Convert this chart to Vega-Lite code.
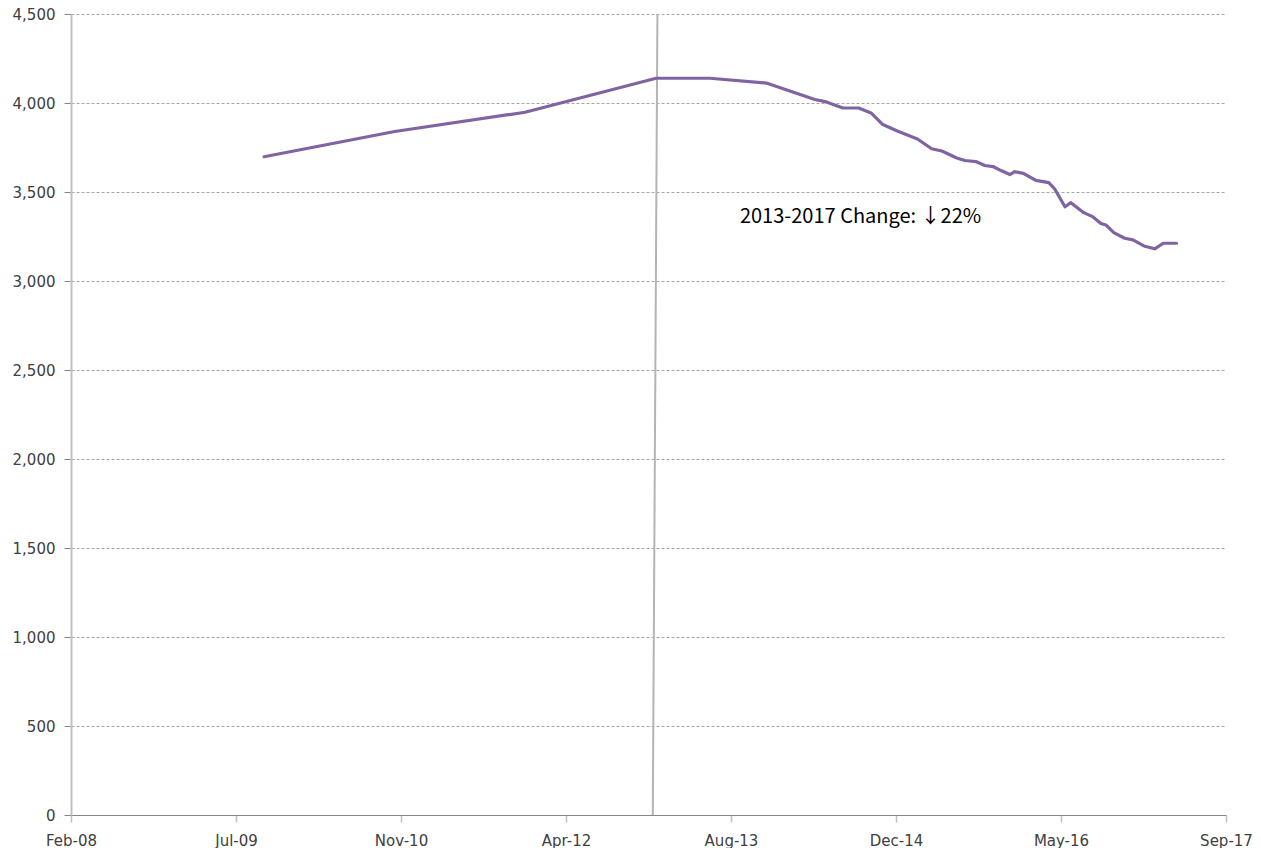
{
  "$schema": "https://vega.github.io/schema/vega-lite/v6.json",
  "autosize": {"type": "none"},
  "width": 1155,
  "height": 801,
  "padding": {"left": 71, "top": 14, "right": 35, "bottom": 33},
  "background": "white",
  "config": {"view": {"stroke": null}},
  "datasets": {
    "series": [
      {"date": "2009-10-01", "value": 3698},
      {"date": "2010-11-01", "value": 3840},
      {"date": "2011-12-01", "value": 3948},
      {"date": "2013-01-01", "value": 4139},
      {"date": "2013-06-13", "value": 4139},
      {"date": "2013-12-01", "value": 4112},
      {"date": "2014-04-27", "value": 4020},
      {"date": "2014-06-01", "value": 4006},
      {"date": "2014-07-21", "value": 3972},
      {"date": "2014-09-07", "value": 3972},
      {"date": "2014-10-16", "value": 3942},
      {"date": "2014-11-19", "value": 3879},
      {"date": "2015-01-02", "value": 3843},
      {"date": "2015-03-04", "value": 3798},
      {"date": "2015-04-16", "value": 3743},
      {"date": "2015-05-17", "value": 3730},
      {"date": "2015-07-01", "value": 3691},
      {"date": "2015-07-26", "value": 3677},
      {"date": "2015-08-28", "value": 3671},
      {"date": "2015-09-24", "value": 3649},
      {"date": "2015-10-19", "value": 3643},
      {"date": "2015-11-14", "value": 3619},
      {"date": "2015-12-09", "value": 3598},
      {"date": "2015-12-24", "value": 3614},
      {"date": "2016-01-19", "value": 3605},
      {"date": "2016-02-26", "value": 3565},
      {"date": "2016-04-05", "value": 3553},
      {"date": "2016-04-23", "value": 3517},
      {"date": "2016-05-24", "value": 3417},
      {"date": "2016-06-11", "value": 3440},
      {"date": "2016-07-20", "value": 3384},
      {"date": "2016-08-17", "value": 3360},
      {"date": "2016-09-10", "value": 3323},
      {"date": "2016-09-25", "value": 3315},
      {"date": "2016-10-19", "value": 3272},
      {"date": "2016-11-21", "value": 3240},
      {"date": "2016-12-16", "value": 3231},
      {"date": "2017-01-21", "value": 3195},
      {"date": "2017-02-20", "value": 3181},
      {"date": "2017-03-18", "value": 3212},
      {"date": "2017-04-27", "value": 3212}
    ],
    "marker": [
      {"date": "2012-12-22", "value": 0},
      {"date": "2013-01-05", "value": 4500}
    ],
    "note": [
      {"date": "2013-09-12", "value": 3360, "label": "2013-2017 Change: ↓22%"}
    ]
  },
  "layer": [
    {
      "data": {"name": "marker"},
      "mark": {"type": "line", "color": "#b4b4b4", "strokeWidth": 2},
      "encoding": {
        "x": {"field": "date", "type": "temporal"},
        "y": {"field": "value", "type": "quantitative"}
      }
    },
    {
      "data": {"name": "series"},
      "mark": {"type": "line", "color": "#8064A2", "strokeWidth": 3.2, "strokeJoin": "round", "strokeCap": "round"},
      "encoding": {
        "x": {
          "field": "date",
          "type": "temporal",
          "title": null,
          "scale": {
            "type": "utc",
            "domain": [
              {"year": 2008, "month": 2, "date": 24, "utc": true},
              {"year": 2017, "month": 9, "date": 24, "utc": true}
            ],
            "nice": false
          },
          "axis": {
            "values": [
              {"year": 2008, "month": 2, "date": 24, "utc": true},
              {"year": 2009, "month": 7, "date": 8, "utc": true},
              {"year": 2010, "month": 11, "date": 20, "utc": true},
              {"year": 2012, "month": 4, "date": 3, "utc": true},
              {"year": 2013, "month": 8, "date": 16, "utc": true},
              {"year": 2014, "month": 12, "date": 29, "utc": true},
              {"year": 2016, "month": 5, "date": 12, "utc": true},
              {"year": 2017, "month": 9, "date": 24, "utc": true}
            ],
            "format": "%b-%y",
            "labelFlush": false,
            "labelOverlap": false,
            "grid": false,
            "domainColor": "#868686",
            "domainWidth": 1,
            "tickColor": "#c0c0c0",
            "tickSize": 7,
            "tickWidth": 1.5,
            "labelFont": "DejaVu Sans",
            "labelFontSize": 15,
            "labelColor": "#404040",
            "labelPadding": 11
          }
        },
        "y": {
          "field": "value",
          "type": "quantitative",
          "title": null,
          "scale": {"domain": [0, 4500], "nice": false, "zero": true},
          "axis": {
            "values": [0, 500, 1000, 1500, 2000, 2500, 3000, 3500, 4000, 4500],
            "format": ",d",
            "grid": true,
            "gridColor": "#a6a6a6",
            "gridDash": [3, 2],
            "gridWidth": 1,
            "domainColor": "#c0c0c0",
            "domainWidth": 2,
            "tickColor": "#868686",
            "tickSize": 7,
            "tickWidth": 1,
            "labelFont": "DejaVu Sans",
            "labelFontSize": 15,
            "labelColor": "#404040",
            "labelPadding": 9
          }
        }
      }
    },
    {
      "data": {"name": "note"},
      "mark": {"type": "text", "align": "left", "baseline": "middle", "font": "Noto Sans CJK SC", "fontSize": 20, "color": "#000000"},
      "encoding": {
        "x": {"field": "date", "type": "temporal"},
        "y": {"field": "value", "type": "quantitative"},
        "text": {"field": "label"}
      }
    }
  ]
}
